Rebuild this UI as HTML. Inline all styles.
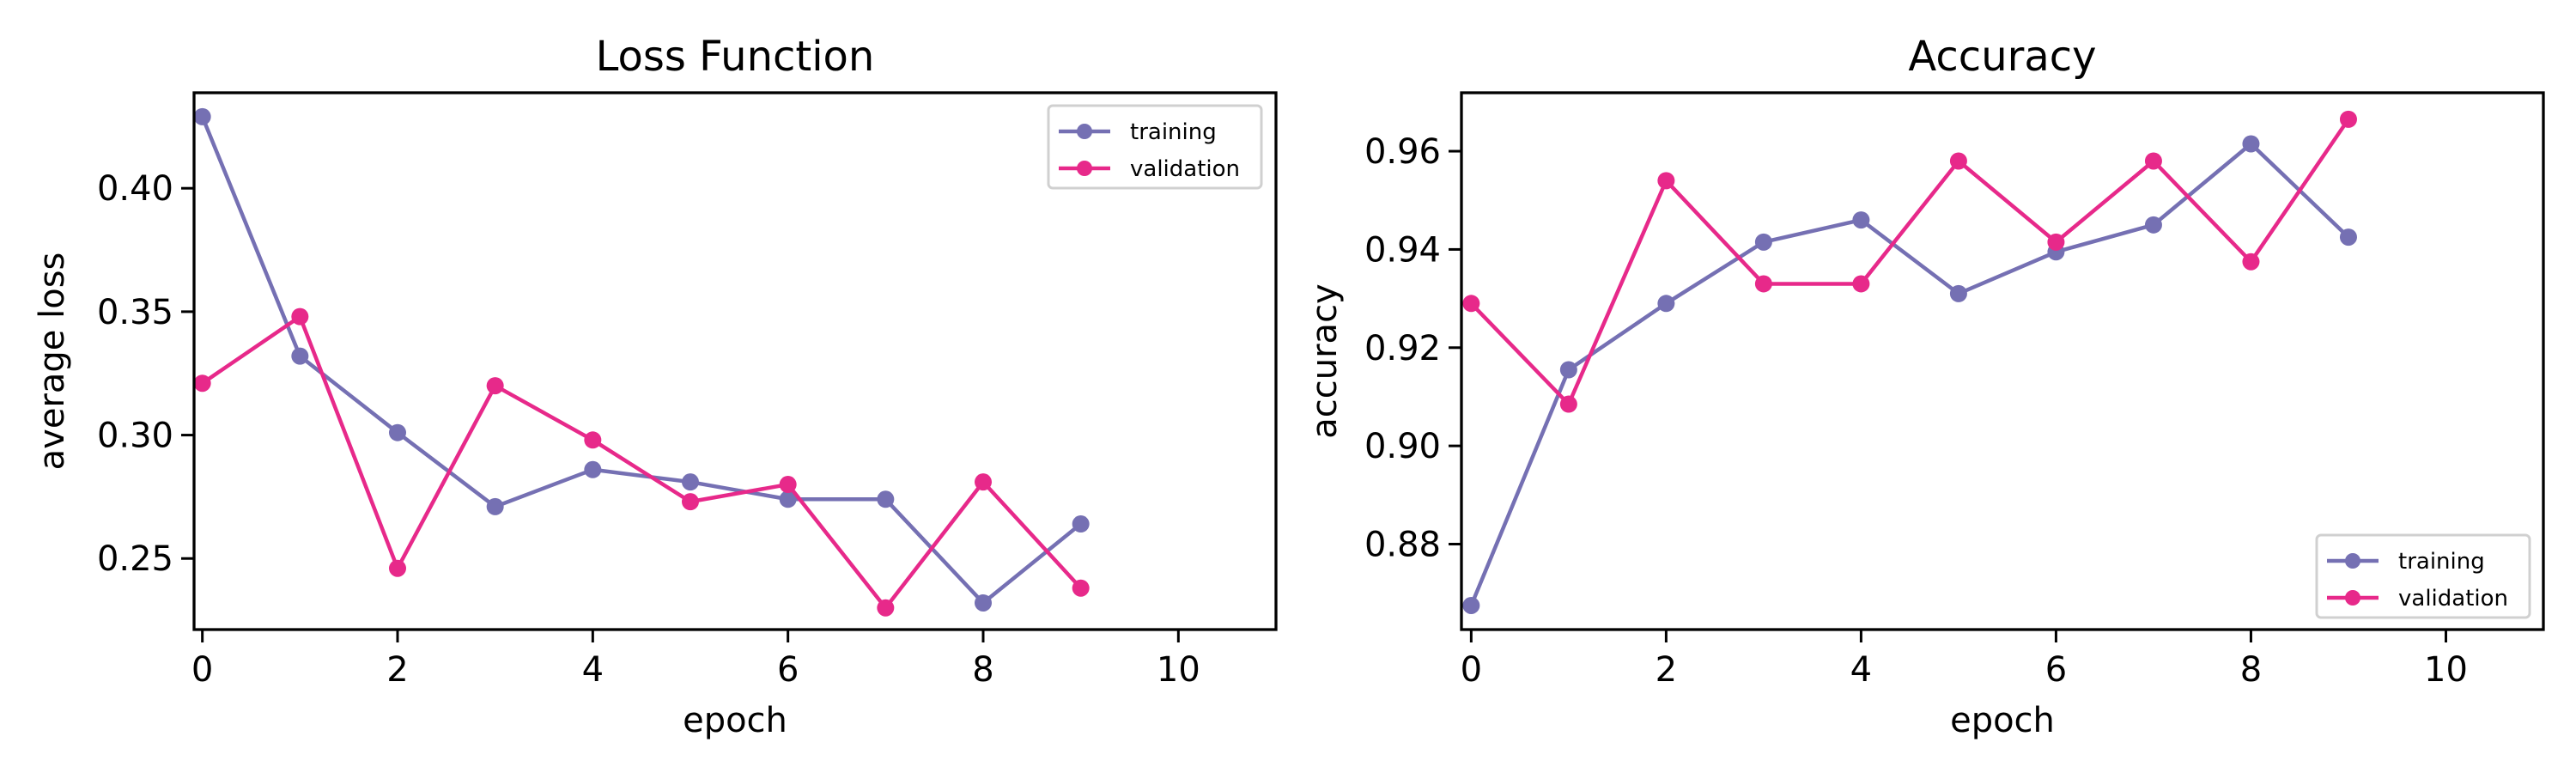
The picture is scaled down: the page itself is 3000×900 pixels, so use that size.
<!DOCTYPE html>
<html><head><meta charset="utf-8"><style>
html,body{margin:0;padding:0;background:#fff;}
svg{display:block;font-family:"DejaVu Sans","Liberation Sans",sans-serif;}
</style></head><body>
<svg id="chart" width="3000" height="900" viewBox="0 0 3000 900" xmlns="http://www.w3.org/2000/svg">
<rect width="3000" height="900" fill="#fff"/>
</svg>
<script>
const epochs = [0,1,2,3,4,5,6,7,8,9];
const lossTraining = [0.429,0.332,0.301,0.271,0.286,0.281,0.274,0.274,0.232,0.264];
const lossValidation = [0.321,0.348,0.246,0.320,0.298,0.273,0.280,0.230,0.281,0.238];
const accTraining = [0.8675,0.9155,0.929,0.9415,0.946,0.931,0.9395,0.945,0.9615,0.9425];
const accValidation = [0.929,0.9085,0.954,0.933,0.933,0.958,0.9415,0.958,0.9375,0.9665];
const xTicks = [0,2,4,6,8,10];
const lossYTicks = [0.25,0.30,0.35,0.40];
const lossYLabels = ["0.25","0.30","0.35","0.40"];
const accYTicks = [0.88,0.90,0.92,0.94,0.96];
const accYLabels = ["0.88","0.90","0.92","0.94","0.96"];

const NS="http://www.w3.org/2000/svg";
const svg=document.getElementById('chart');
function mk(tag,attrs,parent){const e=document.createElementNS(NS,tag);for(const k in attrs)e.setAttribute(k,attrs[k]);(parent||svg).appendChild(e);return e;}
const C_TR="#7570b3", C_VA="#e7298a";

function panel(cfg){
  const g=mk('g',{});
  
  
  const L=cfg.left,R=cfg.right,T=108,B=733;
  const xs=v=>L+(v-cfg.xmin)/(cfg.xmax-cfg.xmin)*(R-L);
  const ys=v=>B-(v-cfg.ymin)/(cfg.ymax-cfg.ymin)*(B-T);
  xTicks.forEach(t=>{
    const l=mk('line',{x1:xs(t),x2:xs(t),y1:B,y2:B+15,stroke:'#000','stroke-width':3},g);
    
    
    const tx=mk('text',{x:xs(t),y:B+60,'text-anchor':'middle','font-size':40,fill:'#000'},g);
    
    
    tx.textContent=String(t);
  });
  cfg.yt.forEach((t,i)=>{
    const l=mk('line',{x1:L-15,x2:L,y1:ys(t),y2:ys(t),stroke:'#000','stroke-width':3},g);
    
    
    const tx=mk('text',{x:L-24,y:ys(t)+14,'text-anchor':'end','font-size':40,fill:'#000'},g);
    
    
    tx.textContent=cfg.yl[i];
  });
  [[cfg.tr,C_TR,'training'],[cfg.va,C_VA,'validation']].forEach(([vals,col,nm])=>{
    const pts=epochs.map((e,i)=>xs(e)+','+ys(vals[i])).join(' ');
    const pl=mk('polyline',{points:pts,fill:'none',stroke:col,'stroke-width':4.5,'stroke-linejoin':'round'},g);
    
    
    epochs.forEach((e,i)=>{
      const c=mk('circle',{cx:xs(e),cy:ys(vals[i]),r:10,fill:col},g);
      
      
    });
  });
  const fr=mk('rect',{x:L,y:T,width:R-L,height:B-T,fill:'none',stroke:'#000','stroke-width':3.3},g);
  
  
  const ti=mk('text',{x:(L+R)/2,y:82,'text-anchor':'middle','font-size':48,fill:'#000'},g);
  
  
  ti.textContent=cfg.title;
  const xl=mk('text',{x:(L+R)/2,y:852,'text-anchor':'middle','font-size':40,fill:'#000'},g);
  
  
  xl.textContent='epoch';
  const yl=mk('text',{x:0,y:0,'text-anchor':'middle','font-size':40,fill:'#000',transform:`translate(${cfg.ylx},${(T+B)/2}) rotate(-90)`},g);
  
  
  yl.textContent=cfg.ylabel;
  const lg=mk('g',{},g);
  
  
  const lx=cfg.leg[0],ly=cfg.leg[1];
  mk('rect',{x:lx,y:ly,width:248,height:96,rx:5,fill:'#fff',stroke:'#d0d0d0','stroke-width':3},lg);
  [['training',C_TR,ly+30],['validation',C_VA,ly+73]].forEach(([nm,col,yy])=>{
    const e=mk('g',{},lg);
    
    
    mk('line',{x1:lx+12,x2:lx+72,y1:yy,y2:yy,stroke:col,'stroke-width':4.5},e);
    mk('circle',{cx:lx+42,cy:yy,r:9,fill:col},e);
    const t=mk('text',{x:lx+95,y:yy+9,'font-size':26,fill:'#000'},e);
    t.textContent=nm;
  });
}
panel({name:'loss-chart',left:226,right:1486,xmin:-0.085,xmax:11,ymin:0.2212,ymax:0.4387,
  tr:lossTraining,va:lossValidation,yt:lossYTicks,yl:lossYLabels,title:'Loss Function',ylabel:'average loss',ylx:74,leg:[1221,123]});
panel({name:'accuracy-chart',left:1702,right:2962,xmin:-0.1,xmax:11,ymin:0.8626,ymax:0.9719,
  tr:accTraining,va:accValidation,yt:accYTicks,yl:accYLabels,title:'Accuracy',ylabel:'accuracy',ylx:1556,leg:[2698,623]});
</script>
</body></html>
